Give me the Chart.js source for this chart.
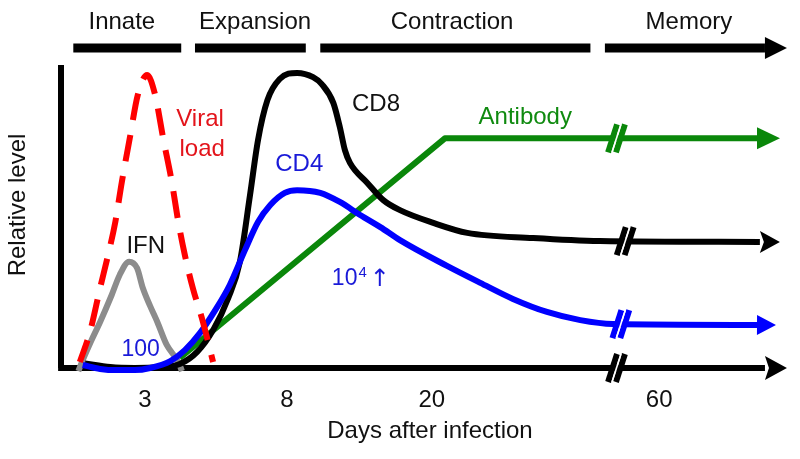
<!DOCTYPE html>
<html><head><meta charset="utf-8">
<script src="https://cdn.jsdelivr.net/npm/chart.js@4.4.1/dist/chart.umd.min.js"></script>
<style>html,body{margin:0;padding:0;background:#fff}canvas{display:block}</style>
</head><body>
<canvas id="c" width="800" height="459"></canvas>
<script>
const FONT = '"Liberation Sans", Arial, Helvetica, sans-serif';

// ---- schematic axis: time in arbitrary units (0..~100), level 0..100 ----
const tickPos    = [11.6, 31.2, 51.2, 82.6];
const tickLabels = ['3', '8', '20', '60'];

const phaseNames = ['Innate', 'Expansion', 'Contraction', 'Memory'];
const phaseStart = [1.7, 18.5, 35.8, 75.1];
const phaseEnd   = [16.6, 33.8, 73.1, 97.2];
const phaseLevel = 105.6;

const viralX = [2.6, 4.0, 5.4, 6.5, 7.5, 8.4, 9.5, 10.6, 11.9, 13.0, 14.1, 15.3, 16.2, 17.1, 18.2, 19.6, 21.0];
const viralY = [2.0, 11.9, 26.4, 37.3, 48.2, 61.4, 75.9, 90.1, 96.7, 90.1, 75.9, 61.4, 48.2, 37.3, 26.4, 15.2, 2.0];

const ifnX = [2.4, 3.0, 4.1, 5.4, 7.0, 8.1, 9.4, 10.5, 11.3, 12.3, 13.3, 14.6, 16.2, 16.7];
const ifnY = [-1.0, 2.6, 8.6, 15.2, 24.1, 30.7, 35.1, 33.0, 26.4, 20.5, 15.2, 7.6, 2.0, -1.0];

const cd8X = [3.3, 6.8, 10.2, 13.5, 16.4, 18.8, 21.0, 23.1, 24.7, 26.1, 27.2, 28.5, 30.2, 32.6, 34.8, 36.0, 37.6, 38.5, 39.2, 39.9, 42.3, 44.5, 46.8, 51.4, 56.1, 65.2, 74.4, 96.5];
const cd8Y = [1.5, 0.3, 0.0, 0.3, 1.3, 5.3, 12.5, 23.1, 35.0, 57.1, 75.2, 88.4, 95.4, 97.4, 96.0, 93.7, 87.5, 79.5, 71.9, 67.7, 61.1, 55.4, 52.1, 47.9, 44.6, 42.9, 41.9, 41.6];

const cd4X = [3.0, 5.4, 7.7, 10.2, 12.3, 15.1, 17.1, 19.2, 21.3, 23.3, 25.4, 27.2, 28.9, 30.9, 32.6, 35.8, 38.5, 41.3, 44.1, 46.8, 53.3, 57.9, 62.4, 67.1, 71.7, 76.2, 96.1];
const cd4Y = [1.0, -0.3, -0.7, -0.7, 0.0, 2.3, 5.9, 11.6, 19.1, 27.4, 38.9, 48.2, 53.8, 57.8, 58.7, 57.8, 54.8, 50.5, 46.5, 42.2, 33.7, 28.1, 22.8, 18.5, 15.8, 14.5, 14.2];

const abX = [16.4, 53.0, 96.1];
const abY = [3.3, 75.8, 75.8];

// axis break positions (time units)
const breakX = { antibody: 76.7, cd8: 77.9, cd4: 77.3, axis: 76.7 };

// ---- text annotations (anchor in chart units) ----
const notes = [
  { t: 'Viral', x: 19.2, y: 82.2, c: '#e3141b' },
  { t: 'load',  x: 19.5, y: 72.3, c: '#e3141b' },
  { t: 'IFN',   x: 11.7, y: 40.3, c: '#111111' },
  { t: '100',   x: 11.0, y: 5.9,  c: '#1a1ad8' },
  { t: 'CD8',   x: 43.5, y: 87.1, c: '#111111' },
  { t: 'CD4',   x: 32.9, y: 67.3, c: '#1a1ad8' },
  { t: 'Antibody', x: 64.1, y: 82.7, c: '#0f8a0f' }
];
const phaseLabelX = [8.4, 26.8, 54.0, 86.7];
const phaseLabelY = 114.2;
const powerNote = { x: 37.4, y: 29.4, c: '#1a1ad8' };

const pts = (xs, ys) => xs.map((x, i) => ({ x, y: ys[i] }));
const phaseData = [];
phaseStart.forEach((s, i) => {
  if (i > 0) phaseData.push({ x: (phaseEnd[i - 1] + s) / 2, y: null });
  phaseData.push({ x: s, y: phaseLevel }, { x: phaseEnd[i], y: phaseLevel });
});

const RED = '#ff0000', BLUE = '#0000ff', GREEN = '#0a870a', GRAY = '#8c8c8c', BLACK = '#000000';

const base = { pointRadius: 0, pointHoverRadius: 0, borderWidth: 6, fill: false, clip: false,
  borderJoinStyle: 'round', cubicInterpolationMode: 'monotone' };

const datasets = [
  Object.assign({}, base, { label: 'Viral load', data: pts(viralX, viralY), borderColor: RED,
    borderDash: [27, 15], borderDashOffset: 4 }),
  Object.assign({}, base, { label: 'CD4', data: pts(cd4X, cd4Y), borderColor: BLUE, brk: breakX.cd4,
    arrow: { len: 19, half: 10, notch: 0 } }),
  Object.assign({}, base, { label: 'CD8', data: pts(cd8X, cd8Y), borderColor: BLACK, brk: breakX.cd8,
    arrow: { len: 20, half: 11, notch: 4 } }),
  Object.assign({}, base, { label: 'Antibody', data: pts(abX, abY), borderColor: GREEN, tension: 0,
    cubicInterpolationMode: 'default', brk: breakX.antibody, arrow: { len: 23, half: 11, notch: 0 } }),
  Object.assign({}, base, { label: 'IFN', data: pts(ifnX, ifnY), borderColor: GRAY }),
  Object.assign({}, base, { label: 'x axis', data: [{ x: -0.4, y: 0 }, { x: 97.2, y: 0 }], borderColor: BLACK,
    tension: 0, cubicInterpolationMode: 'default', brk: breakX.axis, arrow: { len: 22, half: 12, notch: 4 } }),
  Object.assign({}, base, { label: 'y axis', data: [{ x: 0, y: 0 }, { x: 0, y: 100 }], borderColor: BLACK,
    tension: 0, cubicInterpolationMode: 'default' }),
  Object.assign({}, base, { label: 'phases', data: phaseData, borderColor: BLACK, borderWidth: 9, spanGaps: false,
    tension: 0, cubicInterpolationMode: 'default', arrow: { len: 22, half: 11, notch: 0 } })
];

function interpY(data, x) {
  for (let i = 0; i < data.length - 1; i++) {
    const a = data[i], b = data[i + 1];
    if (a.y == null || b.y == null) continue;
    if (x >= a.x && x <= b.x) return a.y + (b.y - a.y) * (x - a.x) / (b.x - a.x);
  }
  return data[data.length - 1].y;
}

const deco = {
  id: 'deco',
  afterDatasetsDraw(chart) {
    const ctx = chart.ctx, xs = chart.scales.x, ys = chart.scales.y;
    chart.data.datasets.forEach((ds, i) => {
      const meta = chart.getDatasetMeta(i);
      if (ds.arrow) {
        const el = meta.data.filter(p => !p.skip);
        const p = el[el.length - 1], q = el[el.length - 2];
        let dx = p.x - q.x, dy = p.y - q.y; const L = Math.hypot(dx, dy) || 1; dx /= L; dy /= L;
        const nx = -dy, ny = dx, a = ds.arrow;
        ctx.save();
        ctx.fillStyle = ds.borderColor;
        ctx.beginPath();
        ctx.moveTo(p.x + dx * a.len, p.y + dy * a.len);
        ctx.lineTo(p.x + nx * a.half, p.y + ny * a.half);
        ctx.lineTo(p.x + dx * a.notch, p.y + dy * a.notch);
        ctx.lineTo(p.x - nx * a.half, p.y - ny * a.half);
        ctx.closePath();
        ctx.fill();
        ctx.restore();
      }
      if (ds.brk !== undefined) {
        const px = xs.getPixelForValue(ds.brk);
        const py = ys.getPixelForValue(interpY(ds.data, ds.brk));
        const vx = 9, vy = 28, ux = vx / 2, uy = vy / 2;
        ctx.save();
        ctx.lineCap = 'butt';
        ctx.strokeStyle = ds.borderColor; ctx.lineWidth = 6;
        [-3.9, 3.9].forEach(o => {
          ctx.beginPath(); ctx.moveTo(px + o - ux, py + uy); ctx.lineTo(px + o + ux, py - uy); ctx.stroke();
        });
        ctx.strokeStyle = '#ffffff'; ctx.lineWidth = 1.6;
        ctx.beginPath(); ctx.moveTo(px - ux, py + uy); ctx.lineTo(px + ux, py - uy); ctx.stroke();
        ctx.restore();
      }
    });
  },
  afterDraw(chart) {
    const ctx = chart.ctx, xs = chart.scales.x, ys = chart.scales.y;
    ctx.save();
    ctx.textAlign = 'center'; ctx.textBaseline = 'middle';
    ctx.font = '24px ' + FONT; ctx.fillStyle = '#111111';
    phaseNames.forEach((n, i) => ctx.fillText(n, xs.getPixelForValue(phaseLabelX[i]), ys.getPixelForValue(phaseLabelY)));
    notes.forEach(n => {
      ctx.fillStyle = n.c;
      ctx.font = (n.t === '100' ? '23px ' : '24px ') + FONT;
      ctx.fillText(n.t, xs.getPixelForValue(n.x), ys.getPixelForValue(n.y));
    });
    // 10^4 ↑
    let x0 = xs.getPixelForValue(powerNote.x), y0 = ys.getPixelForValue(powerNote.y);
    ctx.textAlign = 'left'; ctx.fillStyle = powerNote.c;
    ctx.font = '23px ' + FONT; ctx.fillText('10', x0, y0);
    x0 += ctx.measureText('10').width + 1;
    ctx.font = '15px ' + FONT; ctx.fillText('4', x0, y0 - 6);
    x0 += ctx.measureText('4').width + 3;
    ctx.font = '24px "DejaVu Sans", sans-serif'; ctx.fillText('\u2191', x0, y0 + 1);
    ctx.restore();
  }
};

new Chart(document.getElementById('c'), {
  type: 'line',
  data: { datasets },
  options: {
    responsive: false, animation: false, devicePixelRatio: 1,
    layout: { padding: { top: 42, right: 1, left: 0, bottom: 0 } },
    plugins: { legend: { display: false }, tooltip: { enabled: false } },
    scales: {
      x: {
        type: 'linear', min: 0, max: 101.9,
        grid: { display: false, drawTicks: false }, border: { display: false },
        afterBuildTicks: s => { s.ticks = tickPos.map(v => ({ value: v })); },
        afterFit: s => { s.height = 91; },
        ticks: { autoSkip: false, maxRotation: 0, padding: 18, color: '#111111',
          font: { family: FONT, size: 24 }, callback: (v, i) => tickLabels[i] },
        title: { display: true, text: 'Days after infection', color: '#111111',
          font: { family: FONT, size: 24 }, padding: { top: 0, bottom: 13 } }
      },
      y: {
        type: 'linear', min: 0, max: 107.6,
        grid: { display: false, drawTicks: false }, border: { display: false },
        ticks: { display: false },
        afterFit: s => { s.width = 61; },
        title: { display: true, text: 'Relative level', color: '#111111',
          font: { family: FONT, size: 24 }, padding: { top: 4, bottom: 0 } }
      }
    }
  },
  plugins: [deco]
});
</script>
</body></html>
